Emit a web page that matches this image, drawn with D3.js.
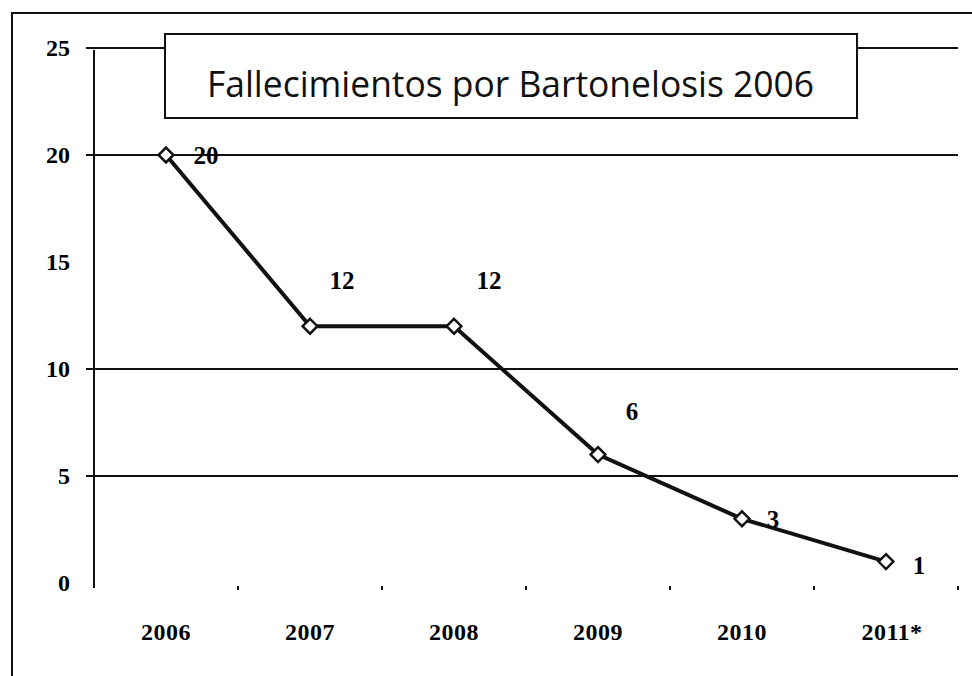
<!DOCTYPE html>
<html>
<head>
<meta charset="utf-8">
<script src="https://cdn.jsdelivr.net/npm/d3@7"></script>
<style>
  body { margin: 0; background: #fff; }
</style>
</head>
<body>
<div id="chart"></div>
<script>
const years = ["2006", "2007", "2008", "2009", "2010", "2011*"];
const deaths = [20, 12, 12, 6, 3, 1];
const yTicks = [0, 5, 10, 15, 20, 25];
const gridTicks = [5, 10, 20, 25]; // the 15 line is not visible in the scan
const title = "Fallecimientos por Bartonelosis 2006";

const width = 972;
const height = 676;
const margin = { top: 48, right: 14, bottom: 93, left: 94 };
const serif = "'Liberation Serif', 'DejaVu Serif', serif";

const svg = d3.select("#chart")
  .append("svg")
  .attr("width", width)
  .attr("height", height);

// outer frame (left and top edges)
svg.append("path")
  .attr("d", `M12,${height} L12,13 L${width},13`)
  .attr("fill", "none")
  .attr("stroke", "#111")
  .attr("stroke-width", 2);

const x = d3.scaleBand()
  .domain(years)
  .range([margin.left, width - margin.right]);

const y = d3.scaleLinear()
  .domain([0, 25])
  .range([height - margin.bottom, margin.top]);

// gridlines
svg.append("g")
  .selectAll("line")
  .data(gridTicks)
  .enter().append("line")
  .attr("x1", margin.left - 8)
  .attr("x2", width - margin.right)
  .attr("y1", d => y(d))
  .attr("y2", d => y(d))
  .attr("stroke", "#111")
  .attr("stroke-width", 2);

// y axis line
svg.append("line")
  .attr("x1", margin.left)
  .attr("x2", margin.left)
  .attr("y1", y(25) + 2)
  .attr("y2", y(0) + 5)
  .attr("stroke", "#111")
  .attr("stroke-width", 2);

// y tick labels
svg.append("g")
  .selectAll("text")
  .data(yTicks)
  .enter().append("text")
  .attr("x", 70)
  .attr("y", d => y(d))
  .attr("dy", "0.35em")
  .attr("text-anchor", "end")
  .style("font-family", serif)
  .style("font-size", "24px")
  .style("font-weight", "bold")
  .text(d => d);

// small x tick marks at the band boundaries
svg.append("g")
  .selectAll("line")
  .data(years)
  .enter().append("line")
  .attr("x1", d => x(d) + x.bandwidth())
  .attr("x2", d => x(d) + x.bandwidth())
  .attr("y1", y(0) + 3)
  .attr("y2", y(0) + 7)
  .attr("stroke", "#111")
  .attr("stroke-width", 2);

// x labels
svg.append("g")
  .selectAll("text")
  .data(years)
  .enter().append("text")
  .attr("x", d => x(d) + x.bandwidth() / 2 + (d === "2011*" ? 6 : 0))
  .attr("y", 640)
  .attr("text-anchor", "middle")
  .style("font-family", serif)
  .style("font-size", "24px")
  .style("font-weight", "bold")
  .style("letter-spacing", "0.5px")
  .text(d => d);

const cx = d => x(d) + x.bandwidth() / 2;

const line = d3.line()
  .x((d, i) => cx(years[i]))
  .y(d => y(d));

svg.append("path")
  .datum(deaths)
  .attr("d", line)
  .attr("fill", "none")
  .attr("stroke", "#111")
  .attr("stroke-width", 4);

// diamond markers
svg.append("g")
  .selectAll("path")
  .data(deaths)
  .enter().append("path")
  .attr("d", d3.symbol().type(d3.symbolDiamond2).size(140))
  .attr("transform", (d, i) => `translate(${cx(years[i])},${y(d)})`)
  .attr("fill", "#fff")
  .attr("stroke", "#111")
  .attr("stroke-width", 2.5);

// data labels
const labelOffsets = [[40, 0], [32, -46], [35, -46], [34, -43], [31, 0], [33, 4]];
svg.append("g")
  .selectAll("text")
  .data(deaths)
  .enter().append("text")
  .attr("x", (d, i) => cx(years[i]) + labelOffsets[i][0])
  .attr("y", (d, i) => y(d) + labelOffsets[i][1])
  .attr("dy", "0.35em")
  .attr("text-anchor", "middle")
  .style("font-family", serif)
  .style("font-size", "25px")
  .style("font-weight", "bold")
  .text(d => d);

// title box
svg.append("rect")
  .attr("x", 165)
  .attr("y", 34)
  .attr("width", 692)
  .attr("height", 84)
  .attr("fill", "#fff")
  .attr("stroke", "#111")
  .attr("stroke-width", 2);

svg.append("text")
  .attr("x", 207)
  .attr("y", 97)
  .attr("textLength", 607)
  .attr("lengthAdjust", "spacingAndGlyphs")
  .style("font-family", "'Open Sans', 'Noto Sans', sans-serif")
  .style("font-size", "37px")
  .style("fill", "#111")
  .text(title);
</script>
</body>
</html>
